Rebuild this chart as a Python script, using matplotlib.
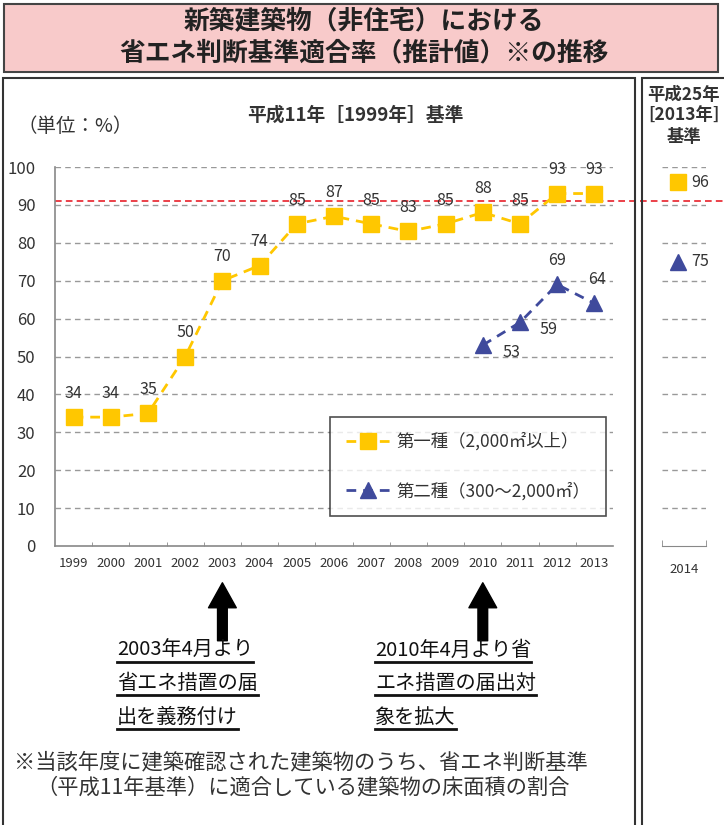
import matplotlib.pyplot as plt
import matplotlib.patches as patches
from matplotlib.lines import Line2D
import numpy as np

plt.rcParams['font.family'] = ['Noto Sans CJK JP', 'DejaVu Sans']

years = ['1999', '2000', '2001', '2002', '2003', '2004', '2005', '2006',
         '2007', '2008', '2009', '2010', '2011', '2012', '2013']
type1 = [34, 34, 35, 50, 70, 74, 85, 87, 85, 83, 85, 88, 85, 93, 93]
type2_years = ['2010', '2011', '2012', '2013']
type2 = [53, 59, 69, 64]
new_std_year = '2014'
new_type1 = 96
new_type2 = 75
target_line = 91

yellow = '#FFC700'
blue = '#3F4A9C'
txt = '#333333'

W, H = 724, 825
fig = plt.figure(figsize=(W / 100, H / 100), dpi=100)


def fx(x):
    return x / W


def fy(y):
    return 1 - y / H


# title box
fig.add_artist(patches.Rectangle((fx(4), fy(72)), fx(714), 68 / H, transform=fig.transFigure,
                                 facecolor='#F8CACA', edgecolor='#444444', lw=1.5))
fig.text(fx(364), fy(21), '新築建築物（非住宅）における', ha='center', va='center',
         fontsize=18.5, fontweight='bold', color='#222222')
fig.text(fx(364), fy(53), '省エネ判断基準適合率（推計値）※の推移', ha='center', va='center',
         fontsize=18.5, fontweight='bold', color='#222222')

# panel boxes
fig.add_artist(patches.Rectangle((fx(3), fy(840)), fx(632), 762 / H, transform=fig.transFigure,
                                 facecolor='none', edgecolor='#333333', lw=1.5))
fig.add_artist(patches.Rectangle((fx(642), fy(840)), fx(100), 762 / H, transform=fig.transFigure,
                                 facecolor='none', edgecolor='#333333', lw=1.5))

# main chart
ax = fig.add_axes([fx(55), fy(546), (613 - 55) / W, (546 - 167) / H])
x = np.arange(len(years)) + 0.5
ax.plot(x, type1, color=yellow, lw=2, ls=(0, (3.5, 2.5)), marker='s', ms=11,
        label='第一種（2,000㎡以上）')
x2 = np.array([years.index(y) for y in type2_years]) + 0.5
ax.plot(x2, type2, color=blue, lw=2, ls=(0, (3.5, 2.5)), marker='^', ms=11,
        label='第二種（300～2,000㎡）')

for xi, v in zip(x, type1):
    ax.annotate(str(v), (xi, v), xytext=(0, 11), textcoords='offset points',
                ha='center', va='bottom', fontsize=11.5, color=txt)
blue_off = [(14, -5, 'left'), (14, -5, 'left'), (0, 11, 'center'), (2, 11, 'center')]
for xi, v, (ox, oy, ha) in zip(x2, type2, blue_off):
    ax.annotate(str(v), (xi, v), xytext=(ox, oy), textcoords='offset points',
                ha=ha, va='bottom' if oy > 0 else 'center', fontsize=11.5, color=txt)

ax.set_xlim(0, len(years))
ax.set_ylim(0, 100)
ax.set_yticks(range(0, 101, 10))
ax.set_xticks(x)
ax.set_xticklabels(years, fontsize=9.5, color=txt)
ax.set_xticks(np.arange(1, len(years)), minor=True)
ax.tick_params(axis='x', which='major', length=0, pad=8)
ax.tick_params(axis='x', which='minor', length=3, direction='in', color='#888888')
ax.tick_params(axis='y', length=0, pad=14, labelsize=12, labelcolor=txt)
for v in range(10, 101, 10):
    ax.axhline(v, color='#999999', lw=1, ls=(0, (4, 3)), zorder=0)
for s in ['top', 'right']:
    ax.spines[s].set_visible(False)
for s in ['left', 'bottom']:
    ax.spines[s].set_color('#888888')
    ax.spines[s].set_linewidth(1.2)

# red target line across both panels
ax.axhline(target_line, xmin=0, xmax=(W - 55) / (613 - 55), color='#E8202A', lw=1.2,
           ls=(0, (4, 2.5)), clip_on=False, zorder=1)

leg = ax.legend(loc='lower left', bbox_to_anchor=(0.493, 0.079), fontsize=12.5,
                frameon=True, fancybox=False, edgecolor='#222222', labelspacing=1.8,
                handlelength=2.6, handletextpad=0.3, borderpad=0.9, borderaxespad=0)
leg.get_frame().set_linewidth(1.2)
for t in leg.get_texts():
    t.set_color(txt)

fig.text(fx(355), fy(115), '平成11年［1999年］基準', ha='center', va='center',
         fontsize=13.5, fontweight='bold', color=txt)
fig.text(fx(75), fy(126), '（単位：%）', ha='center', va='center',
         fontsize=14, color=txt)

# arrows
for yr in ['2003', '2010']:
    xi = years.index(yr) + 0.5
    ax.annotate('', xy=(xi, -0.097), xytext=(xi, -0.25),
                xycoords=('data', 'axes fraction'), textcoords=('data', 'axes fraction'),
                arrowprops=dict(width=7, headwidth=20, headlength=18, color='black'))

# notes under arrows
notes = [(117, ['2003年4月より', '省エネ措置の届', '出を義務付け']),
         (375, ['2010年4月より省', 'エネ措置の届出対', '象を拡大'])]
note_texts = []
for nx, lines in notes:
    for i, line in enumerate(lines):
        t = fig.text(fx(nx), fy(650 + i * 33.5), line, ha='left', va='center',
                     fontsize=14.5, color='#111111')
        note_texts.append(t)

fig.text(fx(14), fy(762), '※当該年度に建築確認された建築物のうち、省エネ判断基準',
         ha='left', va='center', fontsize=15.3, color=txt)
fig.text(fx(36), fy(787), '（平成11年基準）に適合している建築物の床面積の割合',
         ha='left', va='center', fontsize=15.3, color=txt)

# right panel (2013 standard)
ax2 = fig.add_axes([fx(662), fy(546), 44 / W, (546 - 167) / H])
ax2.set_xlim(0, 1)
ax2.set_ylim(0, 100)
ax2.plot([0.36], [new_type1], marker='s', ms=11, color=yellow, ls='none')
ax2.plot([0.36], [new_type2], marker='^', ms=11, color=blue, ls='none')
ax2.annotate(str(new_type1), (0.36, new_type1), xytext=(10, 0), textcoords='offset points',
             ha='left', va='center', fontsize=11.5, color=txt)
ax2.annotate(str(new_type2), (0.36, new_type2), xytext=(10, 0), textcoords='offset points',
             ha='left', va='center', fontsize=11.5, color=txt)
for v in range(10, 101, 10):
    ax2.axhline(v, color='#999999', lw=1, ls=(0, (4, 3)), zorder=0)
ax2.set_yticks([])
ax2.set_xticks([0.5])
ax2.set_xticklabels([new_std_year], fontsize=9.5, color=txt)
ax2.set_xticks([0.0, 1.0], minor=True)
ax2.tick_params(axis='x', which='major', length=0, pad=12)
ax2.tick_params(axis='x', which='minor', length=4, direction='in', color='#888888')
for s in ['top', 'right', 'left']:
    ax2.spines[s].set_visible(False)
ax2.spines['bottom'].set_color('#888888')
ax2.set_facecolor('none')
fig.text(fx(684), fy(116), '平成25年\n[2013年]\n基準', ha='center', va='center',
         fontsize=12.5, fontweight='bold', color=txt, linespacing=1.2)

# underline the note lines
fig.canvas.draw()
r = fig.canvas.get_renderer()
for t in note_texts:
    bb = t.get_window_extent(r)
    yb = bb.y0 - 1
    fig.add_artist(Line2D([bb.x0 / W, bb.x1 / W], [yb / H, yb / H],
                          transform=fig.transFigure, color='#111111', lw=2))

fig.savefig('out.png', dpi=100)
